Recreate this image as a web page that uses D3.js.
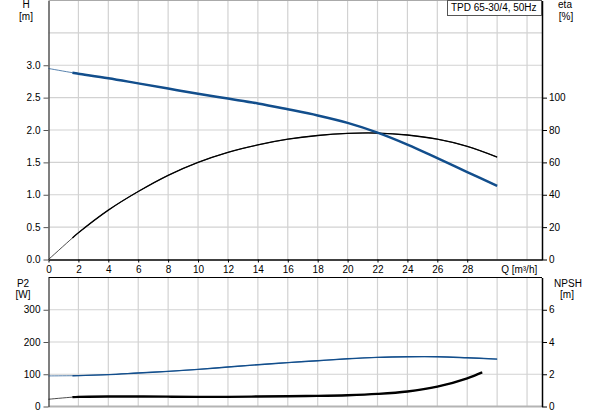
<!doctype html>
<html>
    <head>
        <title>Pump curve</title>
        <script src="https://cdn.jsdelivr.net/npm/d3@7"></script>
        <style>
            html, body {
                margin: 0px;
                padding: 0px;
                background: #fff;
            }
            svg text {
                font-family: Arial, "Liberation Sans", sans-serif;
                font-size: 10px;
                fill: #000;
            }
        </style>
    </head>
    <body>
        <svg width="593" height="415"></svg>
    <script>
        // flow points (m3/h) shared by H, eta and P2
        var flow = [0, 1.6, 2, 4, 6, 8, 10, 12, 14, 16, 18, 20, 22, 24, 26, 28, 30];
        var head = [2.95, 2.885, 2.87, 2.80, 2.72, 2.64, 2.56, 2.485, 2.41, 2.32, 2.225, 2.11, 1.96, 1.775, 1.565, 1.35, 1.136];
        var eta = [0, 13.3, 16.5, 30.5, 42, 52, 60, 66.2, 70.8, 74.3, 76.6, 77.9, 78.1, 76.9, 74.3, 69.9, 63.3];
        var power = [94.8, 95.5, 95.7, 98.8, 104, 109, 115, 122.5, 129.6, 136, 142, 148, 152.4, 154.3, 154.3, 151, 147];
        // NPSH stops earlier
        var npshFlow = [0, 1.6, 2, 4, 6, 8, 10, 12, 14, 16, 18, 20, 22, 24, 26, 28, 29];
        var npsh = [0.45, 0.58, 0.60, 0.62, 0.62, 0.61, 0.60, 0.60, 0.62, 0.64, 0.66, 0.70, 0.78, 0.93, 1.23, 1.75, 2.12];

        var qTicks = [0, 2, 4, 6, 8, 10, 12, 14, 16, 18, 20, 22, 24, 26, 28];
        var hTicks = [0, 0.5, 1, 1.5, 2, 2.5, 3];
        var etaTicks = [0, 20, 40, 60, 80, 100];
        var p2Ticks = [0, 100, 200, 300];
        var npshTicks = [0, 2, 4, 6];
        var title = 'TPD 65-30/4, 50Hz';

        var blue = '#124e8c';
        var thickFrom = 1.6;

        var svg = d3.select('svg');
        var left = 48.5, right = 542;
        var top1 = 0.5, bot1 = 259.5;
        var top2 = 277.5, bot2 = 406.5;

        var x = d3.scaleLinear().domain([0, 33]).range([left, right]);
        var yH = d3.scaleLinear().domain([0, 4]).range([bot1, top1]);
        var yEta = d3.scaleLinear().domain([0, 160]).range([bot1, top1]);
        var yP2 = d3.scaleLinear().domain([0, 400]).range([bot2, top2]);
        var yNpsh = d3.scaleLinear().domain([0, 8]).range([bot2, top2]);

        // grids
        function grid(yScale, yVals, y0, y1) {
            var g = svg.append('g').attr('stroke', '#d2d2d2').attr('stroke-width', 1.2);
            d3.range(2, 33, 2).forEach(function(q) {
                g.append('line').attr('x1', x(q)).attr('x2', x(q)).attr('y1', y0).attr('y2', y1);
            });
            yVals.forEach(function(v) {
                g.append('line').attr('x1', left).attr('x2', right).attr('y1', yScale(v)).attr('y2', yScale(v));
            });
        }
        grid(yH, [0.5, 1, 1.5, 2, 2.5, 3, 3.5], top1, bot1);
        grid(yP2, [100, 200, 300], top2, bot2);

        // frame lines
        svg.append('line').attr('x1', left).attr('x2', right).attr('y1', top1).attr('y2', top1)
            .attr('stroke', '#aaa').attr('stroke-width', 1);
        svg.append('line').attr('x1', left).attr('x2', right).attr('y1', top2).attr('y2', top2)
            .attr('stroke', '#000').attr('stroke-width', 1.2);
        svg.append('line').attr('x1', left).attr('x2', right).attr('y1', bot2).attr('y2', bot2)
            .attr('stroke', '#b4b4b4').attr('stroke-width', 2);

        function styleAxis(g, col) {
            g.select('.domain').attr('stroke', col).attr('stroke-width', 1.5);
            g.selectAll('.tick line').attr('stroke', col);
            g.selectAll('.tick text').attr('fill', '#000').style('font-size', '10px')
                .style('font-family', 'Arial, "Liberation Sans", sans-serif');
        }

        // top chart axes
        var gx = svg.append('g').attr('transform', 'translate(0,' + bot1 + ')')
            .call(d3.axisBottom(x).tickValues(qTicks).tickFormat(d3.format('d')).tickSize(3).tickSizeOuter(0).tickPadding(3));
        styleAxis(gx, '#000');
        svg.append('text').attr('x', x(30) + 4).attr('y', bot1 + 13).text('Q [m\u00b3/h]');

        var gyH = svg.append('g').attr('transform', 'translate(' + left + ',0)')
            .call(d3.axisLeft(yH).tickValues(hTicks).tickFormat(d3.format('.1f')).tickSize(5).tickSizeOuter(0).tickPadding(3));
        styleAxis(gyH, '#555');
        var gyE = svg.append('g').attr('transform', 'translate(' + right + ',0)')
            .call(d3.axisRight(yEta).tickValues(etaTicks).tickSize(5).tickSizeOuter(0).tickPadding(2));
        styleAxis(gyE, '#000');

        // bottom chart axes
        var gyP = svg.append('g').attr('transform', 'translate(' + left + ',0)')
            .call(d3.axisLeft(yP2).tickValues(p2Ticks).tickSize(5).tickSizeOuter(0).tickPadding(3));
        styleAxis(gyP, '#555');
        var gyN = svg.append('g').attr('transform', 'translate(' + right + ',0)')
            .call(d3.axisRight(yNpsh).tickValues(npshTicks).tickSize(5).tickSizeOuter(0).tickPadding(2));
        styleAxis(gyN, '#000');

        // axis titles
        function label(tx, ty, s) {
            svg.append('text').attr('x', tx).attr('y', ty).attr('text-anchor', 'middle').text(s);
        }
        label(26, 8, 'H');
        label(26, 20, '[m]');
        label(565, 8, 'eta');
        label(566, 20, '[%]');
        label(23, 287, 'P2');
        label(23, 298, '[W]');
        label(568, 287, 'NPSH');
        label(567, 298, '[m]');

        // curves: thin part near zero flow, thick part for the rest
        function curve(qs, vs, yScale, col, w) {
            var pts = qs.map(function(q, i) { return [q, vs[i]]; });
            var line = d3.line()
                .x(function(d) { return x(d[0]); })
                .y(function(d) { return yScale(d[1]); })
                .curve(d3.curveCatmullRom.alpha(0.5));
            svg.append('path').datum(pts).attr('d', line)
                .attr('fill', 'none').attr('stroke', col).attr('stroke-width', 1).attr('opacity', 0.7);
            svg.append('path').datum(pts.filter(function(d) { return d[0] >= thickFrom; })).attr('d', line)
                .attr('fill', 'none').attr('stroke', col).attr('stroke-width', w);
        }
        curve(flow, eta, yEta, '#000', 1.3);
        curve(flow, head, yH, blue, 2.5);
        curve(flow, power, yP2, blue, 1.4);
        curve(npshFlow, npsh, yNpsh, '#000', 2.4);

        // title box
        var tb = svg.append('g');
        tb.append('rect').attr('x', 447.5).attr('y', 0.5).attr('width', 94).attr('height', 15)
            .attr('fill', '#fff').attr('stroke', '#555');
        tb.append('text').attr('x', 451).attr('y', 11).text(title);
    </script>
    </body>
</html>
